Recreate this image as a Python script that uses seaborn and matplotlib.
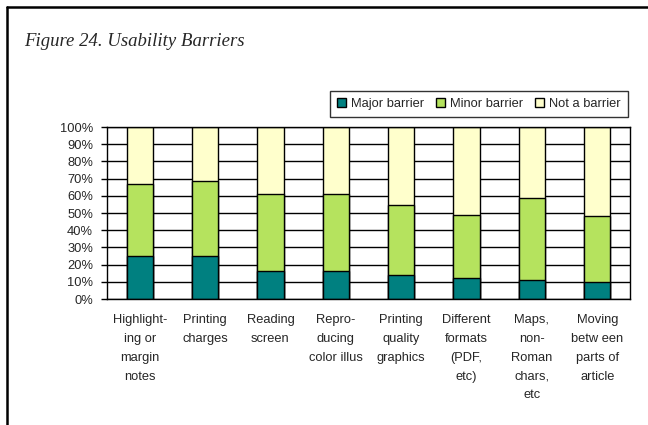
import numpy as np
import pandas as pd
import matplotlib
matplotlib.use('Agg')
import matplotlib.pyplot as plt
from matplotlib.patches import Patch
from matplotlib.lines import Line2D
import seaborn as sns

# data (percent of respondents)
categories = ["Highlight-\ning or\nmargin\nnotes", "Printing\ncharges", "Reading\nscreen",
              "Repro-\nducing\ncolor illus", "Printing\nquality\ngraphics",
              "Different\nformats\n(PDF,\netc)", "Maps,\nnon-\nRoman\nchars,\netc",
              "Moving\nbetw een\nparts of\narticle"]
major = [25, 25, 16.5, 16.5, 14, 12, 11, 10]
minor = [42, 43.5, 44.5, 44.5, 40.5, 37, 48, 38.5]
not_barrier = [100 - a - b for a, b in zip(major, minor)]
series_names = ["Major barrier", "Minor barrier", "Not a barrier"]
colors = ["#008080", "#B5E35E", "#FFFFCC"]

sns.set_style("white")
plt.rcParams['font.family'] = ['Liberation Sans', 'DejaVu Sans']

df = pd.DataFrame({'cat': categories, 'major': major, 'minor': minor, 'not': not_barrier})
df['cum_minor'] = df['major'] + df['minor']
df['cum_not'] = df['cum_minor'] + df['not']

W, H = 648, 425
fig = plt.figure(figsize=(W / 100, H / 100), dpi=100)
ax = fig.add_axes([107 / W, 1 - 299 / H, (630 - 107) / W, (299 - 127) / H])

# stacked bars drawn as overlapping cumulative totals
for col, c in zip(['cum_not', 'cum_minor', 'major'], colors[::-1]):
    sns.barplot(data=df, x='cat', y=col, color=c, width=0.4, edgecolor='black',
                linewidth=1, saturation=1, ax=ax)

fs = 9.3
ax.set_xlim(-0.5, len(categories) - 0.5)
ax.set_ylim(0, 100)
ax.set_yticks(np.arange(0, 101, 10))
ax.set_yticklabels([f"{v}%" for v in range(0, 101, 10)], fontsize=fs)
ax.yaxis.grid(True, color='black', linewidth=1)
ax.set_axisbelow(True)
ax.set_xlabel('')
ax.set_ylabel('')
for s in ax.spines.values():
    s.set_color('black')
    s.set_linewidth(1)

ax.set_xticks(range(len(categories)))
ax.set_xticklabels(categories, fontsize=fs, linespacing=1.75, va='top')
ax.set_xticks(np.arange(-0.5, len(categories), 1), minor=True)
ax.tick_params(axis='x', which='major', length=0, pad=11)
ax.tick_params(axis='x', which='minor', length=4, width=1, color='black', direction='out')
ax.tick_params(axis='y', length=4, width=1, color='black', direction='out', left=True, pad=6)

handles = [Patch(facecolor=c, edgecolor='black', linewidth=1) for c in colors]
leg = fig.legend(handles, series_names, loc='upper right', ncol=3,
                 bbox_to_anchor=(628 / W, 1 - 91 / H), fontsize=fs, frameon=True,
                 fancybox=False, edgecolor='black', handlelength=0.7, handleheight=0.7,
                 handletextpad=0.4, columnspacing=0.9, borderpad=0.55, borderaxespad=0)
leg.get_frame().set_linewidth(1)

fig.text(24 / W, 1 - 46 / H, "Figure 24. Usability Barriers", fontsize=13.5,
         fontstyle='italic', family='Liberation Serif', va='baseline')

# page frame lines (top and left)
fig.add_artist(Line2D([7 / W, 1], [1 - 6.5 / H, 1 - 6.5 / H], color='black', linewidth=1.8))
fig.add_artist(Line2D([7 / W, 7 / W], [0, 1 - 6.5 / H], color='black', linewidth=1.8))

fig.savefig('out.png', dpi=100)
